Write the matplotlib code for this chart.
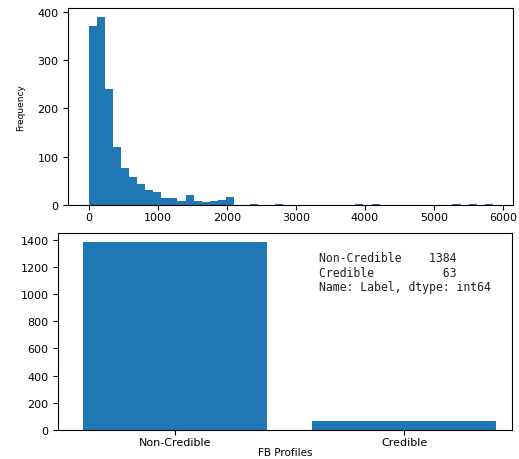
import numpy as np
import matplotlib.pyplot as plt

# histogram of friend counts: 50 bins over 0..5850
bin_edges = np.linspace(0, 5850, 51)
bin_counts = [372, 389, 240, 120, 76, 58, 43, 31, 27, 13,
              13, 7, 21, 8, 5, 7, 10, 16, 0, 0,
              2, 0, 0, 1, 0, 0, 0, 0, 0, 0,
              0, 0, 0, 1, 0, 1, 0, 0, 0, 0,
              0, 0, 0, 0, 0, 1, 0, 1, 0, 1]

# label counts
labels = ['Non-Credible', 'Credible']
label_counts = [1384, 63]

fig = plt.figure(figsize=(5.19, 4.6), dpi=100)

# top: histogram
ax1 = fig.add_axes([0.1316, 0.5528, 0.857, 0.4276])
ax1.hist(bin_edges[:-1], bins=bin_edges, weights=bin_counts, color='#1f77b4')
ax1.set_ylabel('Frequency', fontsize=6.5, labelpad=9)
ax1.set_xticks([0, 1000, 2000, 3000, 4000, 5000, 6000])
ax1.tick_params(labelsize=8)
ax1.tick_params(axis='x', pad=1.5)

# bottom: bar chart of labels
ax2 = fig.add_axes([0.1123, 0.0637, 0.8736, 0.4276])
ax2.bar(labels, label_counts, color='#1f77b4')
ax2.set_xlim(-0.51, 1.47)
ax2.set_xlabel('FB Profiles', fontsize=7.5, labelpad=0.5)
ax2.tick_params(labelsize=8)
ax2.tick_params(axis='x', pad=1.5)

summary = "\n".join([
    f"{labels[0]:<12}{label_counts[0]:>8}",
    f"{labels[1]:<12}{label_counts[1]:>8}",
    "Name: Label, dtype: int64",
])
ax2.text(0.63, 1320, summary, family='DejaVu Sans Mono', fontsize=8.3,
         va='top', ha='left', color='#222222', linespacing=1.15)

fig.savefig('out.png', dpi=100)
